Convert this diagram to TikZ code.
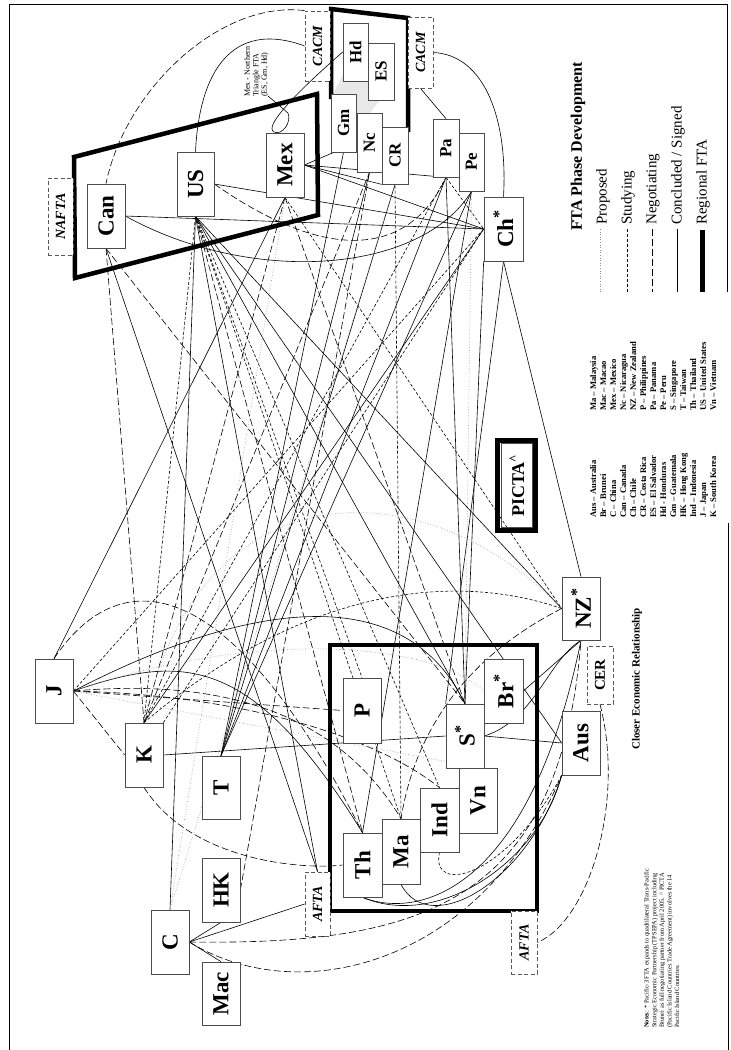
\documentclass[tikz,border=0pt]{standalone}
\usepackage{fontspec}
\setmainfont{Liberation Serif}
\usepackage{graphicx}
\usetikzlibrary{backgrounds}
\tikzset{
 box/.style={draw=black!70, line width=0.7pt, fill=white, inner sep=0pt, font=\bfseries\fontsize{23}{23}\selectfont},
 sbox/.style={box, font=\bfseries\fontsize{17}{17}\selectfont},
 dbox/.style={draw=black!65, dash pattern=on 4pt off 2.5pt, line width=0.8pt, fill=white, inner sep=0pt, font=\bfseries\itshape\fontsize{14}{14}\selectfont},
 con/.style={line width=0.6pt},
 stu/.style={line width=0.6pt, dash pattern=on 3pt off 2pt},
 neg/.style={line width=0.6pt, dash pattern=on 7pt off 3pt},
 pro/.style={line width=0.6pt, black!45, dotted},
 reg/.style={line width=4.5pt, line join=miter},
 rtext/.style={rotate=90, inner sep=0pt}
}
\newcommand\bx[7][box]{\node[#1, minimum width=#5pt, minimum height=#6pt] (#2) at (#3,#4) {\rotatebox{90}{#7}};}
\begin{document}
\begin{tikzpicture}[x=1pt,y=-1pt]
\useasboundingbox (0,0) rectangle (731,1050);
% frame
\draw[line width=0.6pt] (727,292) -- (727,4) -- (9,4) -- (9,1050);
\draw[line width=0.6pt] (728,523) -- (728,1050);
% shaded northern triangle area
\fill[gray!18] (333,94) -- (343,74) -- (343,81) -- (368,81) -- (368,100) -- (380,100) -- (370,113) -- (357,113) -- (357,94) -- cycle;
% regional FTA frames
\draw[reg] (74,157) -- (317,94) -- (318,215) -- (75,278) -- cycle;
\draw[reg] (331,99) -- (331,9) -- (408,18) -- (408,132);
\draw[reg] (330,645) rectangle (537,911);
% nodes
\bx{Can}{106}{216}{38}{64}{Can}
\bx{US}{195.5}{184}{37}{64}{US}
\bx{Mex}{285}{165}{38}{64}{Mex}
\bx[dbox]{NAFTA}{60.5}{216.5}{25}{77}{NAFTA}
\bx[dbox]{CACMa}{317.5}{46}{25}{70}{CACM}
\bx[dbox]{CACMb}{420.5}{52.5}{25}{71}{CACM}
\bx[sbox]{Hd}{355.5}{52}{25}{58}{Hd}
\bx[sbox]{ES}{381}{71.5}{26}{57}{ES}
\bx[sbox]{Gm}{343.5}{123}{25}{58}{Gm}
\bx[sbox]{Nc}{369.5}{142.5}{25}{59}{Nc}
\bx[sbox]{CR}{395}{155.5}{26}{57}{CR}
\bx[sbox]{Pa}{446}{148}{26}{58}{Pa}
\bx[sbox]{Pe}{471.5}{162}{25}{58}{Pe}
\bx{Ch}{503.5}{229}{39}{64}{Ch\textsuperscript{*}}
\bx{J}{54}{691}{38}{64}{J}
\bx{K}{144}{755}{38}{64}{K}
\bx{T}{221}{787.5}{38}{63}{T}
\bx{HK}{221}{890}{38}{64}{HK}
\bx{C}{170}{942}{38}{64}{C}
\bx{Mac}{221}{993.5}{38}{63}{Mac}
\bx[dbox]{AFTAa}{317.5}{904}{25}{64}{AFTA}
\bx{P}{362}{710.5}{38}{65}{P}
\bx{Th}{362.5}{865}{39}{64}{Th}
\bx{Ma}{401}{851.5}{38}{65}{Ma}
\bx{Ind}{439.5}{820}{39}{64}{Ind}
\bx{Vn}{478}{800.5}{38}{65}{Vn}
\bx{S}{465}{736}{38}{64}{S\textsuperscript{*}}
\bx{Br}{503.5}{691}{39}{64}{Br\textsuperscript{*}}
\bx{NZ}{581}{608.5}{38}{63}{NZ\textsuperscript{*}}
\bx[dbox,font=\bfseries\fontsize{15}{15}\selectfont]{CER}{600}{675}{26}{58}{CER}
\bx{Aus}{581}{743}{38}{64}{Aus}
\bx[dbox]{AFTAb}{524}{942.5}{26}{63}{AFTA}
% PICTA
\draw[line width=5pt] (497.5,440.5) rectangle (535.5,530.5);
\node[draw=black!70, line width=0.7pt, minimum width=31pt, minimum height=84pt, inner sep=0pt, font=\bfseries\fontsize{18}{18}\selectfont] (PICTA) at (517,485.5) {\rotatebox{90}{PICTA\textsuperscript{\textasciicircum}}};
% Mex - Northern Triangle label
\node[rtext, anchor=north west, align=left, font=\fontsize{8}{8.5}\selectfont] (mnt) at (244,97) {Mex - Northern\\Triangle FTA\\(ES, Gm, Hd)};
\coordinate (mntA) at (268,96);
\coordinate (mntB) at (288,113);
\draw[con] (mntA) -- (mntB);
\draw[con] (Hd.west) .. controls (305,85) and (262,126) .. (274,132) .. controls (282,136) and (292,122) .. (mntB);
% edges
\begin{pgfonlayer}{background}
% concluded
\draw[con] (Can.east) -- (Ch.west);
\draw[con] (Can.east) .. controls (250,285) and (420,275) .. (Pe.south);
\draw[con] (US.east) -- (Ch.west);
\draw[con] (Mex.east) -- (Ch.west);
\draw[con] (Mex.east) -- (Nc.west);
\draw[con] (Mex.east) -- (CR.south west);
\draw[con] (Mex.east) -- (Pa.south);
\draw[con] (J.north) -- (Mex.south);
\draw[con] (Ch.south) -- (S.north west);
\draw[con] (Ch.south west) -- (S.north);
\draw[con] (Ch.south) -- (NZ.north);
\draw[con] (Pa.south) -- (S.north);
\draw[con] (Pe.south) -- (Th.north);
\draw[con] (Pe.south) -- (T.north);
\draw[con] (T.north) -- (Pa.south);
\draw[con] (T.north) -- (Gm.south);
\draw[con] (T.north) -- (Nc.south);
\draw[con] (T.north) -- (CR.south);
\draw[con] (CACMb.east) .. controls (485,55) and (508,120) .. (Ch.north);
\draw[con] (CACMb.south) -- (Pa.north);
\draw[con] (CACMa.west) .. controls (240,22) and (200,60) .. (US.north);
\draw[con] (US.south) -- (S.north);
\draw[con] (US.south) -- (NZ.west);
\draw[con] (US.south) -- (Aus.west);
\draw[con] (K.north) -- (Ch.west);
\draw[con] (K.east) -- (S.west);
\draw[con] (J.east) .. controls (230,610) and (400,570) .. (S.north);
\draw[con] (J.east) .. controls (180,655) and (250,650) .. (Th.north);
\draw[con] (S.east) -- (Aus.west);
\draw[con] (S.east) .. controls (535,720) and (548,660) .. (NZ.south);
\draw[con] (Br.east) -- (NZ.south);
\draw[con] (C.east) -- (HK.south);
\draw[con] (C.east) -- (Mac.north);
\draw[con] (C.east) -- (AFTAa.west);
\draw[con] (C.north) -- (US.south);
\draw[con] (AFTAa.north) -- (Can.south);
\draw[con] (AFTAa.north) -- (US.south);
\draw[con] (Th.south) .. controls (420,920) and (530,890) .. (NZ.south);
\draw[con] (Ma.south) .. controls (430,940) and (530,880) .. (Aus.south west);
\draw[con] (Th.south) .. controls (440,930) and (540,860) .. (Aus.south west);
% studying
\draw[stu] (J.east) -- (Ch.west);
\draw[stu] (Mex.south) -- (NZ.west);
\draw[stu] (US.south) -- (Ma.north);
\draw[stu] (US.south) -- (Ind.north);
\draw[stu] (US.south) -- (P.north);
\draw[stu] (K.north) -- (US.south);
\draw[stu] (Pa.south) -- (K.north);
\draw[stu] (K.north east) -- (Ch.west);
\draw[stu] (Pa.south) -- (Ch.west);
\draw[stu] (Ma.north) -- (CR.south);
\draw[stu] (K.north) .. controls (300,590) and (450,570) .. (NZ.west);
\draw[stu] (Ind.south) .. controls (430,895) and (505,880) .. (Aus.south west);
% negotiating
\draw[neg] (CACMa.north west) .. controls (220,0) and (125,90) .. (Can.north);
\draw[neg] (US.east) .. controls (330,265) and (410,255) .. (Pa.south);
\draw[neg] (Can.south) -- (K.north);
\draw[neg] (Can.south) -- (S.north);
\draw[neg] (Mex.south) -- (K.north);
\draw[neg] (Mex.south) -- (S.north);
\draw[neg] (US.south) -- (Th.north);
\draw[neg] (J.east) -- (P.west);
\draw[neg] (J.north) .. controls (120,560) and (230,570) .. (Th.north);
\draw[neg] (J.east) -- (K.west);
\draw[neg] (J.east) .. controls (200,680) and (330,700) .. (Ma.north);
\draw[neg] (J.east) .. controls (250,695) and (380,740) .. (Ind.north);
\draw[neg] (K.south) .. controls (190,860) and (300,870) .. (Th.west);
\draw[neg] (C.east) .. controls (420,945) and (560,905) .. (NZ.south);
\draw[neg] (C.east) .. controls (300,1010) and (480,965) .. (Aus.south west);
\draw[neg] (CER.south) .. controls (625,800) and (590,920) .. (AFTAb.east);
\draw[neg] (NZ.west) .. controls (500,640) and (420,700) .. (Ma.north);
\draw[neg] (HK.east) -- (Nc.south);
\draw[neg] (K.north) -- (Nc.south);
% proposed
\draw[pro] (J.east) .. controls (250,630) and (430,640) .. (Br.west);
\draw[pro] (C.north) -- (CR.south);
\draw[pro] (C.north) -- (Mex.south);
\draw[pro] (Pe.south) -- (S.north);
\draw[pro] (K.north) .. controls (200,460) and (430,470) .. (NZ.west);
\draw[pro] (J.east) -- (Vn.north);
\end{pgfonlayer}
% legend
\node[rtext, anchor=west, font=\bfseries\fontsize{16}{16}\selectfont] (lgtitle) at (578,231) {FTA Phase Development};
\node[rtext, anchor=west, font=\fontsize{15}{15}\selectfont] (lgp) at (603,225) {Proposed};
\node[rtext, anchor=west, font=\fontsize{15}{15}\selectfont] (lgs) at (628,225) {Studying};
\node[rtext, anchor=west, font=\fontsize{15}{15}\selectfont] (lgn) at (653,225) {Negotiating};
\node[rtext, anchor=west, font=\fontsize{15}{15}\selectfont] (lgc) at (678,225) {Concluded / Signed};
\node[rtext, anchor=west, font=\fontsize{15}{15}\selectfont] (lgr) at (703,225) {Regional FTA};
\draw[pro] (600,229) -- (600,292);
\draw[stu] (627,229) -- (627,292);
\draw[neg] (652,229) -- (652,292);
\draw[con] (677,229) -- (677,292);
\draw[line width=5pt] (702,230) -- (702,292);
% abbreviations
\node[rtext, anchor=north west, align=left, font=\bfseries\fontsize{8.6}{10}\selectfont] (abbr1) at (590,518) {Aus -- Australia\\Br -- Brunei\\C -- China\\Can -- Canada\\Ch -- Chile\\CR -- Costa Rica\\ES -- El Salvador\\Hd - Honduras\\Gm -- Guatemala\\HK -- Hong Kong\\Ind -- Indonesia\\J -- Japan\\K -- South Korea};
\node[rtext, anchor=north west, align=left, font=\bfseries\fontsize{8.6}{10}\selectfont] (abbr2) at (590,411) {Ma -- Malaysia\\Mac -- Macao\\Mex -- Mexico\\Nc -- Nicaragua\\NZ -- New Zealand\\P -- Philippines\\Pa -- Panama\\Pe -- Peru\\S -- Singapore\\T -- Taiwan\\Th -- Thailand\\US -- United States\\Vn -- Vietnam};
\node[rtext, font=\bfseries\fontsize{11}{11}\selectfont] (cerlab) at (637,679) {Closer Economic Relationship};
\node[rtext, anchor=north west, align=left, font=\fontsize{6.4}{7.6}\selectfont] (notes) at (644,1028) {\textbf{Notes}: * Pacific-3 FTA expands to quadrilateral Trans-Pacific\\Strategic Economic Partnership (TPSEPA) project including\\Brunei as full negotiating partner from April 2005. \textasciicircum{} PICTA\\(Pacific Island Countries Trade Agreement) involves the 14\\Pacific Island Countries.};
\end{tikzpicture}
\end{document}
